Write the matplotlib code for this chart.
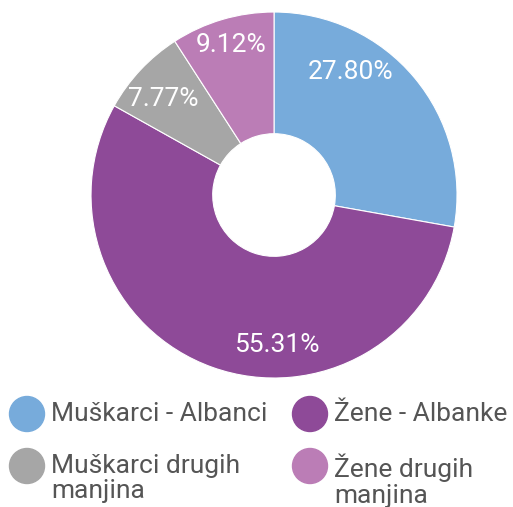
import numpy as np
import matplotlib.pyplot as plt
from matplotlib.patches import Ellipse

# data
labels = ["Muškarci - Albanci", "Žene - Albanke", "Muškarci drugih\nmanjina", "Žene drugih\nmanjina"]
values = [27.80, 55.31, 7.77, 9.12]
colors = ["#77abdb", "#8e4a98", "#a6a6a6", "#bb7db6"]
# where each percentage text sits (degrees, ccw from 3 o'clock) and its radius
label_angles = [58, -89, 139, 106]
label_radius = [0.79, 0.82, 0.80, 0.85]

plt.rcParams["font.family"] = ["Roboto", "DejaVu Sans"]

fig = plt.figure(figsize=(5.13, 5.07), dpi=100)
ax = fig.add_axes([0.1774, 0.2544, 0.7135, 0.7219])

ax.pie(values, colors=colors, startangle=90, counterclock=False, radius=1,
       wedgeprops=dict(width=0.665, edgecolor="white", linewidth=0.8))
for v, a, r in zip(values, label_angles, label_radius):
    t = np.deg2rad(a)
    ax.text(r * np.cos(t), r * np.sin(t), f"{v:.2f}%", ha="center", va="center",
            color="white", fontsize=19)
ax.set_xlim(-1, 1)
ax.set_ylim(-1, 1)
ax.set_aspect("equal")
ax.axis("off")

# legend drawn by hand (2 columns)
W, H = 513, 507
col_x = [27, 310]
row_y = [414, 466]
for i, (lab, c) in enumerate(zip(labels, colors)):
    cx = col_x[i % 2]
    cy = row_y[i // 2]
    fig.patches.append(Ellipse((cx / W, 1 - cy / H), 35 / W, 35 / H, color=c,
                               transform=fig.transFigure, figure=fig))
    fig.text((cx + 24) / W, 1 - (cy - 12) / H, lab, ha="left", va="top",
             fontsize=19, color="#555555", linespacing=1.06)

fig.savefig("out.png", dpi=100)
